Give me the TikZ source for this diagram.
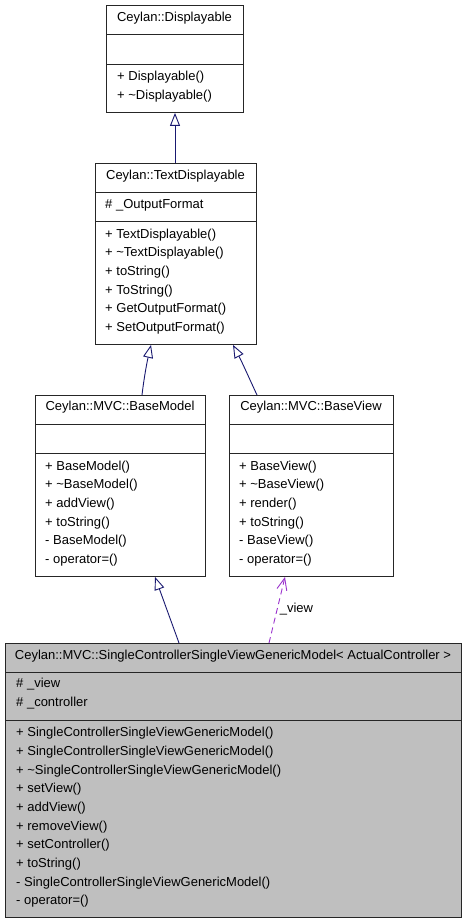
\documentclass[tikz,border=0pt]{standalone}
\usepackage{fontspec}
\setmainfont{Liberation Sans}
\usetikzlibrary{arrows.meta,calc}
\definecolor{edgeblue}{HTML}{191970}
\definecolor{usepurple}{HTML}{9A32CD}
\definecolor{selfgrey}{HTML}{BFBFBF}
\begin{document}
\begin{tikzpicture}[x=1pt,y=-1pt,
  box/.style={draw=black!85, line width=0.9pt, anchor=north west, inner sep=0pt},
  div/.style={draw=black!85, line width=0.9pt},
  ttl/.style={anchor=center, inner sep=0pt, font=\fontsize{13}{15}\selectfont},
  txt/.style={anchor=west, inner sep=0pt, font=\fontsize{13}{15}\selectfont},
  inh/.style={draw=edgeblue, line width=0.9pt, -{Triangle[open,length=13pt,width=10pt,line width=0.9pt]}},
  usedep/.style={draw=usepurple, line width=0.9pt, dash pattern=on 6pt off 4pt, -{Straight Barb[length=12pt,width=10pt,line width=0.9pt]}}]
\useasboundingbox (0,0) rectangle (467,923);

% Displayable
\node[box, minimum width=137pt, minimum height=107pt] (disp) at (106,5) {};
\draw[div] (106,34) -- (243,34);
\draw[div] (106,64) -- (243,64);
\node[ttl] (dispT) at (174.5,18) {Ceylan::Displayable};
\node[txt] (d1) at (117,77) {+ Displayable()};
\node[txt] (d2) at (117,96) {+ \textasciitilde Displayable()};

% TextDisplayable
\node[box, minimum width=161pt, minimum height=181pt] (textd) at (95,163) {};
\draw[div] (95,192) -- (256,192);
\draw[div] (95,221) -- (256,221);
\node[ttl] (tdT) at (175.5,176) {Ceylan::TextDisplayable};
\node[txt] (ta) at (105,205) {\# \_OutputFormat};
\node[txt] (t1) at (105,235) {+ TextDisplayable()};
\node[txt] (t2) at (105,253.5) {+ \textasciitilde TextDisplayable()};
\node[txt] (t3) at (105,272) {+ toString()};
\node[txt] (t4) at (105,291) {+ ToString()};
\node[txt] (t5) at (105,309.5) {+ GetOutputFormat()};
\node[txt] (t6) at (105,328) {+ SetOutputFormat()};

% BaseModel
\node[box, minimum width=170pt, minimum height=181pt] (bm) at (35,395) {};
\draw[div] (35,424) -- (205,424);
\draw[div] (35,453) -- (205,453);
\node[ttl] (bmT) at (120,407) {Ceylan::MVC::BaseModel};
\node[txt] (m1) at (45,467) {+ BaseModel()};
\node[txt] (m2) at (45,485.5) {+ \textasciitilde BaseModel()};
\node[txt] (m3) at (45,504) {+ addView()};
\node[txt] (m4) at (45,523) {+ toString()};
\node[txt] (m5) at (45,541.5) {- BaseModel()};
\node[txt] (m6) at (45,560) {- operator=()};

% BaseView
\node[box, minimum width=164pt, minimum height=181pt] (bv) at (229,395) {};
\draw[div] (229,424) -- (393,424);
\draw[div] (229,453) -- (393,453);
\node[ttl] (bvT) at (311,407) {Ceylan::MVC::BaseView};
\node[txt] (v1) at (239,467) {+ BaseView()};
\node[txt] (v2) at (239,485.5) {+ \textasciitilde BaseView()};
\node[txt] (v3) at (239,504) {+ render()};
\node[txt] (v4) at (239,523) {+ toString()};
\node[txt] (v5) at (239,541.5) {- BaseView()};
\node[txt] (v6) at (239,560) {- operator=()};

% SingleControllerSingleViewGenericModel
\node[box, fill=selfgrey, minimum width=456pt, minimum height=274pt] (sc) at (5,643) {};
\draw[div] (5,672) -- (461,672);
\draw[div] (5,720) -- (461,720);
\node[ttl] (scT) at (233,656) {Ceylan::MVC::SingleControllerSingleViewGenericModel< ActualController >};
\node[txt] (sa1) at (16,684.5) {\# \_view};
\node[txt] (sa2) at (16,703) {\# \_controller};
\node[txt] (s1) at (16,733) {+ SingleControllerSingleViewGenericModel()};
\node[txt] (s2) at (16,752) {+ SingleControllerSingleViewGenericModel()};
\node[txt] (s3) at (16,771) {+ \textasciitilde SingleControllerSingleViewGenericModel()};
\node[txt] (s4) at (16,789) {+ setView()};
\node[txt] (s5) at (16,808) {+ addView()};
\node[txt] (s6) at (16,827) {+ removeView()};
\node[txt] (s7) at (16,845) {+ setController()};
\node[txt] (s8) at (16,864) {+ toString()};
\node[txt] (s9) at (16,883) {- SingleControllerSingleViewGenericModel()};
\node[txt] (s10) at (16,901) {- operator=()};

% edges
\coordinate (e1s) at ($(textd.north west)+(80,0)$);
\coordinate (e1t) at ($(disp.south west)+(69,0)$);
\draw[inh] (e1s) -- (e1t);

\coordinate (e2s) at ($(bm.north west)+(107,0)$);
\coordinate (e2t) at ($(textd.south west)+(56,0)$);
\draw[inh] (e2s) .. controls (144,378) and (147,362) .. (e2t);

\coordinate (e3s) at ($(bv.north west)+(28,0)$);
\coordinate (e3t) at ($(textd.south west)+(138,0)$);
\draw[inh] (e3s) .. controls (250,380) and (242,362) .. (e3t);

\coordinate (e4s) at ($(sc.north west)+(174,0)$);
\coordinate (e4t) at ($(bm.south west)+(120,0)$);
\draw[inh] (e4s) -- (e4t);

\coordinate (e5s) at ($(sc.north west)+(264,0)$);
\coordinate (e5t) at ($(bv.south west)+(56,0)$);
\draw[usedep] (e5s) -- (e5t) node[pos=0.52, anchor=west, inner sep=0pt, xshift=2pt, font=\fontsize{13}{15}\selectfont] (viewlbl) {\_view};
\end{tikzpicture}
\end{document}
